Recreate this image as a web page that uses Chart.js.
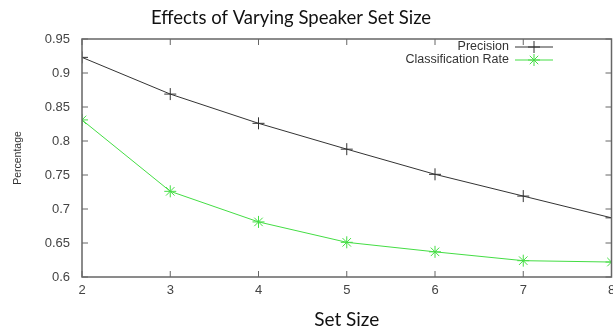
<!DOCTYPE html>
<html>
<head>
<meta charset="utf-8">
<script src="https://cdn.jsdelivr.net/npm/chart.js@4"></script>
<style>
  html, body { margin: 0; padding: 0; background: #fff; }
  #box { width: 613px; height: 327px; }
</style>
</head>
<body>
<div id="box"><canvas id="myChart"></canvas></div>
<script>
const setSizes = [2, 3, 4, 5, 6, 7, 8]
const precision = [0.923, 0.869, 0.826, 0.788, 0.751, 0.719, 0.687]
const classRate = [0.831, 0.726, 0.681, 0.651, 0.637, 0.624, 0.622]
const yTicks = [0.6, 0.65, 0.7, 0.75, 0.8, 0.85, 0.9, 0.95]

const chartTitle = 'Effects of Varying Speaker Set Size'
const xTitle = 'Set Size'
const yTitle = 'Percentage'

function toPoints(vals){
    return setSizes.map((s, i) => ({ x: s, y: vals[i] }))
}

// frame with inward ticks on all four sides (gnuplot style)
const framePlugin = {
    id: 'frame',
    afterDatasetsDraw(chart){
        const c = chart.ctx
        const a = chart.chartArea
        const xs = chart.scales.x
        const ys = chart.scales.y
        c.save()
        c.strokeStyle = '#666'
        c.lineWidth = 1.5
        c.strokeRect(a.left, a.top, a.right - a.left, a.bottom - a.top)
        c.lineWidth = 1
        setSizes.forEach(v => {
            const px = xs.getPixelForValue(v)
            c.beginPath()
            c.moveTo(px, a.bottom); c.lineTo(px, a.bottom - 6)
            c.moveTo(px, a.top); c.lineTo(px, a.top + 6)
            c.stroke()
        })
        yTicks.forEach(v => {
            const py = ys.getPixelForValue(v)
            c.beginPath()
            c.moveTo(a.left, py); c.lineTo(a.left + 6, py)
            c.moveTo(a.right, py); c.lineTo(a.right - 6, py)
            c.stroke()
        })
        c.restore()
    }
}

// title + legend inside top right
const textPlugin = {
    id: 'texts',
    afterDraw(chart){
        const c = chart.ctx
        c.save()
        c.fillStyle = '#111'
        c.font = '18.5px Lato'
        c.textAlign = 'center'
        c.textBaseline = 'middle'
        c.fillText(chartTitle, 291, 18)

        c.font = '12.5px "Liberation Sans"'
        c.textAlign = 'right'
        c.fillStyle = '#333'
        chart.data.datasets.forEach((ds, i) => {
            const y = 47 + i * 13
            c.fillText(ds.label, 509, y)
            c.strokeStyle = ds.borderColor
            c.lineWidth = 1
            c.beginPath()
            c.moveTo(515, y); c.lineTo(553, y)
            c.stroke()
            Chart.helpers.drawPoint(c, {
                pointStyle: ds.pointStyle,
                radius: ds.pointRadius,
                borderWidth: 1
            }, 534, y)
        })
        c.restore()
    }
}

const ctx = document.getElementById('myChart').getContext('2d')
const myChart = new Chart(ctx, {
    type: 'line',
    data: {
        datasets: [{
            label: 'Precision',
            data: toPoints(precision),
            borderColor: '#333',
            backgroundColor: '#333',
            borderWidth: 1,
            pointStyle: 'cross',
            pointRadius: 6,
            pointBorderWidth: 1
        }, {
            label: 'Classification Rate',
            data: toPoints(classRate),
            borderColor: '#44dd44',
            backgroundColor: '#44dd44',
            borderWidth: 1,
            pointStyle: 'star',
            pointRadius: 6,
            pointBorderWidth: 1
        }]
    },
    options: {
        responsive: true,
        maintainAspectRatio: false,
        animation: false,
        layout: { autoPadding: false, padding: { top: 39, right: 1.5, left: 0, bottom: 0 } },
        plugins: {
            legend: { display: false },
            tooltip: { enabled: false }
        },
        scales: {
            x: {
                type: 'linear',
                min: 2,
                max: 8,
                grid: { display: false, drawTicks: false },
                border: { display: false },
                ticks: {
                    stepSize: 1,
                    padding: 6,
                    color: '#444',
                    font: { family: 'Liberation Sans', size: 13 }
                },
                title: {
                    display: true,
                    text: xTitle,
                    color: '#111',
                    font: { family: 'Lato', size: 19, lineHeight: 1 },
                    padding: { top: 10, bottom: -2 }
                },
                afterFit(scale){
                    scale.height = 50
                    scale.paddingLeft = 0
                    scale.paddingRight = 0
                }
            },
            y: {
                min: 0.6,
                max: 0.95,
                grid: { display: false, drawTicks: false },
                border: { display: false },
                afterBuildTicks(scale){ scale.ticks = yTicks.map(v => ({ value: v })) },
                ticks: {
                    padding: 12,
                    color: '#444',
                    font: { family: 'Liberation Sans', size: 13 },
                    callback: v => String(Number(v.toFixed(2)))
                },
                title: {
                    display: true,
                    text: yTitle,
                    color: '#333',
                    font: { family: 'Liberation Sans', size: 10.5 },
                    padding: { top: 12, bottom: 0 }
                },
                afterFit(scale){
                    scale.width = 82
                    scale.paddingTop = 0
                    scale.paddingBottom = 0
                }
            }
        }
    },
    plugins: [framePlugin, textPlugin]
})
</script>
</body>
</html>
